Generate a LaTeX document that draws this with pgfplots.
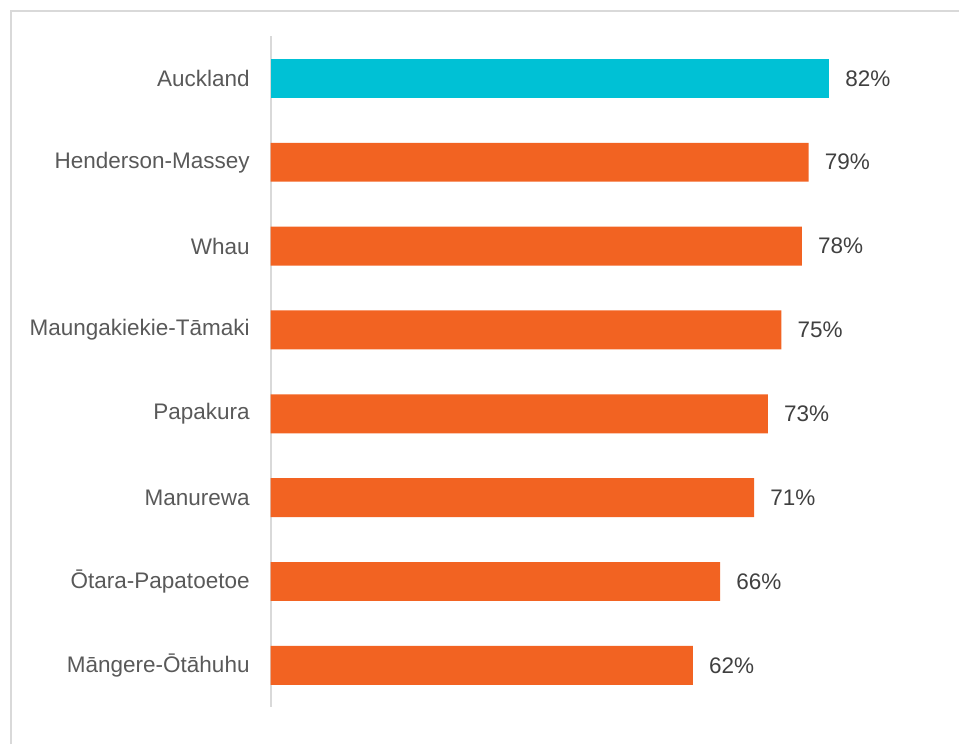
\documentclass[border=0pt]{standalone}
\usepackage{pgfplots}
\pgfplotsset{compat=1.18}
\usepackage{fontspec}
\setmainfont{Liberation Sans}
\definecolor{akl}{HTML}{00C1D5}
\definecolor{board}{HTML}{F26322}
\definecolor{framegray}{HTML}{D9D9D9}
\definecolor{labelgray}{HTML}{595959}
\definecolor{valgray}{HTML}{404040}
\begin{document}
\begin{tikzpicture}[x=1bp,y=1bp]
  % outer frame (cut off at right and bottom)
  \draw[framegray, line width=2bp] (11.5,0) -- (11.5,733.5) -- (960,733.5);
  \begin{axis}[
    at={(271bp,37bp)}, anchor=south west,
    scale only axis,
    width=681.7bp, height=671.5bp,
    xbar, bar width=39bp, bar shift=0pt,
    xmin=0, xmax=100,
    ymin=-0.5, ymax=7.5, y dir=reverse,
    axis x line=none,
    axis y line*=left,
    y axis line style={framegray, line width=2bp},
    ytick={0,...,7},
    yticklabels={Auckland,Henderson-Massey,Whau,Maungakiekie-Tāmaki,Papakura,Manurewa,Ōtara-Papatoetoe,Māngere-Ōtāhuhu},
    major tick length=0pt,
    yticklabel style={font=\fontsize{22.6}{27}\selectfont, text=labelgray, anchor=east, inner sep=0pt, xshift=-21bp},
    /pgf/number format/assume math mode=true,
    point meta=x,
    nodes near coords={\pgfmathprintnumber{\pgfplotspointmeta}\%},
    nodes near coords style={font=\fontsize{22.6}{27}\selectfont, text=valgray, anchor=west, inner sep=0pt, xshift=16bp},
    clip=false,
  ]
    \addplot[fill=akl, draw=none] coordinates {(82,0)};
    \addplot[fill=board, draw=none] coordinates {
      (79,1) (78,2) (75,3) (73,4) (71,5) (66,6) (62,7)
    };
  \end{axis}
  \useasboundingbox (0,0) rectangle (960,745);
\end{tikzpicture}
\end{document}
